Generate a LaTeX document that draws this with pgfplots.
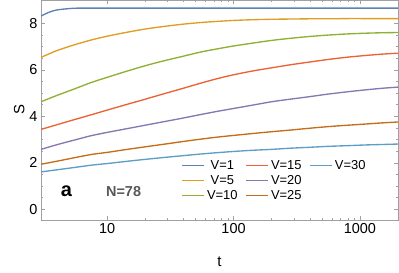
\documentclass[border=0pt]{standalone}
\usepackage{pgfplots}
\pgfplotsset{compat=1.18}
\usepackage{fontspec}
\setmainfont{Liberation Sans}
\usetikzlibrary{calc}
\definecolor{c1}{HTML}{5E81B5}
\definecolor{c5}{HTML}{E19C24}
\definecolor{c10}{HTML}{8FB032}
\definecolor{c15}{HTML}{EB6235}
\definecolor{c20}{HTML}{8778B3}
\definecolor{c25}{HTML}{C56E1A}
\definecolor{c30}{HTML}{5D9EC7}
\definecolor{framegray}{HTML}{A0A0A0}
\pgfplotstableread{
t     v5   v10  v15  v20  v25  v30
3     6.53 4.62 3.43 2.57 1.93 1.60
4     6.82 4.89 3.63 2.77 2.06 1.69
5.5   7.07 5.17 3.85 2.97 2.21 1.79
7.5   7.28 5.45 4.06 3.16 2.35 1.89
10    7.44 5.67 4.26 3.30 2.44 1.96
14    7.60 5.92 4.49 3.45 2.56 2.05
20    7.75 6.17 4.73 3.61 2.68 2.14
28    7.86 6.38 4.96 3.76 2.79 2.22
40    7.96 6.58 5.20 3.92 2.91 2.30
55    8.03 6.76 5.42 4.07 3.01 2.37
75    8.08 6.90 5.62 4.21 3.10 2.43
100   8.12 7.02 5.78 4.33 3.17 2.48
140   8.15 7.14 5.94 4.47 3.25 2.53
200   8.17 7.26 6.08 4.62 3.33 2.57
280   8.18 7.35 6.21 4.73 3.40 2.62
400   8.19 7.43 6.33 4.84 3.48 2.66
560   8.19 7.49 6.44 4.95 3.55 2.70
800   8.20 7.54 6.54 5.05 3.61 2.73
1100  8.20 7.57 6.61 5.13 3.66 2.76
1500  8.20 7.59 6.67 5.20 3.71 2.78
2000  8.20 7.60 6.71 5.25 3.75 2.80
}\datatable
\begin{document}
\begin{tikzpicture}
\begin{axis}[
  scale only axis,
  width=357bp, height=220bp,
  xmode=log,
  xmin=3, xmax=2000,
  ymin=-0.47, ymax=9,
  ytick={0,2,4,6,8},
  minor y tick num=3,
  xtick={10,100,1000},
  xticklabels={10,100,1000},
  axis line style={framegray},
  tick style={framegray},
  tick align=inside,
  major tick length=4bp,
  minor tick length=2.5bp,
  /pgf/number format/assume math mode=true,
  tick label style={font=\fontsize{14.5}{16}\selectfont, black},
  xlabel={t}, ylabel={S},
  label style={font=\fontsize{15}{17}\selectfont},
  xlabel style={yshift=-16bp},
  ylabel style={yshift=-2bp},
  legend columns=3,
  legend style={draw=none, fill=none, at={(rel axis cs:0.385,0.29)}, anchor=north west,
    font=\fontsize{13}{14}\selectfont,
    row sep=0.3bp,
    /tikz/every even column/.append style={column sep=6bp}},
  legend image code/.code={\draw[line width=1.4pt,#1] (0bp,0bp) -- (22bp,0bp);},
  every axis plot/.append style={line width=1.35pt},
]
\addplot[c1, smooth, forget plot] coordinates {(3,8.31)(3.5,8.48)(4,8.57)(5,8.63)(6,8.65)(10,8.65)(100,8.65)(2000,8.65)};
\addplot[c5, smooth, forget plot] table[x=t,y=v5] {\datatable};
\addplot[c10, smooth, forget plot] table[x=t,y=v10] {\datatable};
\addplot[c15, smooth, forget plot] table[x=t,y=v15] {\datatable};
\addplot[c20, smooth, forget plot] table[x=t,y=v20] {\datatable};
\addplot[c25, smooth, forget plot] table[x=t,y=v25] {\datatable};
\addplot[c30, smooth, forget plot] table[x=t,y=v30] {\datatable};
\addlegendimage{c1}\addlegendentry{V=1}
\addlegendimage{c15}\addlegendentry{V=15}
\addlegendimage{c30}\addlegendentry{V=30}
\addlegendimage{c5}\addlegendentry{V=5}
\addlegendimage{c20}\addlegendentry{V=20}
\addlegendimage{empty legend}\addlegendentry{}
\addlegendimage{c10}\addlegendentry{V=10}
\addlegendimage{c25}\addlegendentry{V=25}
\node[font=\fontsize{20}{22}\selectfont\bfseries] at (axis cs:4.77,0.78) {a};
\node[font=\fontsize{14.5}{16}\selectfont\bfseries, text=black!65] at (axis cs:13.5,0.75) {N=78};
\end{axis}
\pgfresetboundingbox
\path ($(current axis.south west)+(-41bp,-53bp)$) rectangle ($(current axis.north east)+(1bp,0bp)$);
\end{tikzpicture}
\end{document}
